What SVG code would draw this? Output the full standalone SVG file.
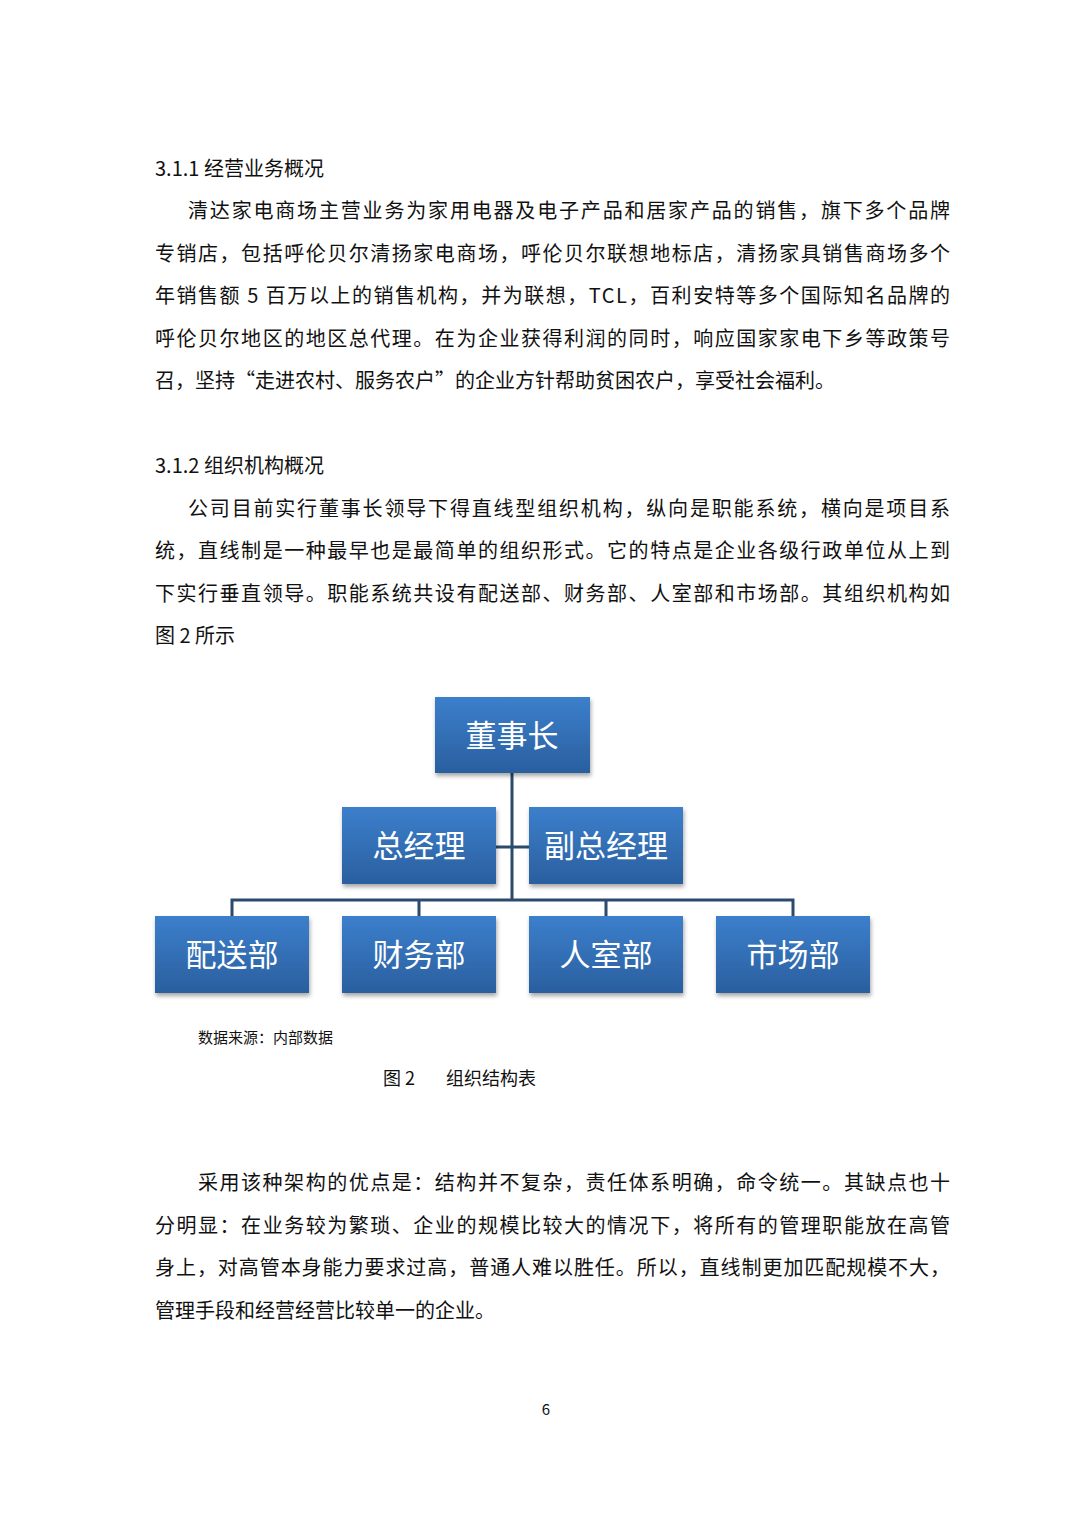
<svg xmlns="http://www.w3.org/2000/svg" width="1080" height="1527" viewBox="0 0 1080 1527">
<style>
.t{font-family:"Noto Sans CJK SC","Noto Sans",sans-serif;font-size:20px;fill:#111}
.s{font-family:"Noto Sans CJK SC","Noto Sans",sans-serif;font-size:15px;fill:#111}
.n{font-family:"Noto Sans CJK SC",sans-serif;font-size:31px;fill:#fff;text-anchor:middle}
.c{stroke:#2b4a6e;stroke-width:3;fill:none}
</style>
<defs>
<linearGradient id="g" x1="0" y1="0" x2="0" y2="1"><stop offset="0" stop-color="#3c7fcc"/><stop offset="1" stop-color="#2a5f9f"/></linearGradient>
<filter id="sh" x="-10%" y="-10%" width="125%" height="130%"><feDropShadow dx="1" dy="3" stdDeviation="2" flood-color="#000" flood-opacity="0.35"/></filter>
</defs>
<rect width="1080" height="1527" fill="#fff"/>
<text class="t" x="155" y="176">3.1.1 经营业务概况</text>
<text class="t" x="188" y="218" textLength="762" lengthAdjust="spacing">清达家电商场主营业务为家用电器及电子产品和居家产品的销售，旗下多个品牌</text>
<text class="t" x="155" y="261" textLength="795" lengthAdjust="spacing">专销店，包括呼伦贝尔清扬家电商场，呼伦贝尔联想地标店，清扬家具销售商场多个</text>
<text class="t" x="155" y="303" textLength="795" lengthAdjust="spacing">年销售额 5 百万以上的销售机构，并为联想，TCL，百利安特等多个国际知名品牌的</text>
<text class="t" x="155" y="346" textLength="795" lengthAdjust="spacing">呼伦贝尔地区的地区总代理。在为企业获得利润的同时，响应国家家电下乡等政策号</text>
<text class="t" x="155" y="388">召，坚持“走进农村、服务农户”的企业方针帮助贫困农户，享受社会福利。</text>
<text class="t" x="155" y="473">3.1.2 组织机构概况</text>
<text class="t" x="188" y="516" textLength="762" lengthAdjust="spacing">公司目前实行董事长领导下得直线型组织机构，纵向是职能系统，横向是项目系</text>
<text class="t" x="155" y="558" textLength="795" lengthAdjust="spacing">统，直线制是一种最早也是最简单的组织形式。它的特点是企业各级行政单位从上到</text>
<text class="t" x="155" y="601" textLength="795" lengthAdjust="spacing">下实行垂直领导。职能系统共设有配送部、财务部、人室部和市场部。其组织机构如</text>
<text class="t" x="155" y="643">图  2 所示</text>
<g id="connectors">
<path class="c" d="M512 773V900M496 847H529M232 916V900H793V916M419 900V916M606 900V916"/>
</g>
<g id="n1"><rect x="435" y="697" width="155" height="76" fill="url(#g)" filter="url(#sh)"/><text class="n" x="512" y="747">董事长</text></g>
<g id="n2"><rect x="342" y="807" width="154" height="77" fill="url(#g)" filter="url(#sh)"/><text class="n" x="419" y="857">总经理</text></g>
<g id="n3"><rect x="529" y="807" width="154" height="77" fill="url(#g)" filter="url(#sh)"/><text class="n" x="606" y="857">副总经理</text></g>
<g id="n4"><rect x="155" y="916" width="154" height="77" fill="url(#g)" filter="url(#sh)"/><text class="n" x="232" y="966">配送部</text></g>
<g id="n5"><rect x="342" y="916" width="154" height="77" fill="url(#g)" filter="url(#sh)"/><text class="n" x="419" y="966">财务部</text></g>
<g id="n6"><rect x="529" y="916" width="154" height="77" fill="url(#g)" filter="url(#sh)"/><text class="n" x="606" y="966">人室部</text></g>
<g id="n7"><rect x="716" y="916" width="154" height="77" fill="url(#g)" filter="url(#sh)"/><text class="n" x="793" y="966">市场部</text></g>
<text class="s" x="198" y="1043">数据来源：内部数据</text>
<text class="t" x="383" y="1085" style="font-size:18px">图 2</text>
<text class="t" x="446" y="1085" style="font-size:18px">组织结构表</text>
<text class="t" x="198" y="1190" textLength="752" lengthAdjust="spacing">采用该种架构的优点是：结构并不复杂，责任体系明确，命令统一。其缺点也十</text>
<text class="t" x="155" y="1233" textLength="795" lengthAdjust="spacing">分明显：在业务较为繁琐、企业的规模比较大的情况下，将所有的管理职能放在高管</text>
<text class="t" x="155" y="1275" textLength="795" lengthAdjust="spacing">身上，对高管本身能力要求过高，普通人难以胜任。所以，直线制更加匹配规模不大，</text>
<text class="t" x="155" y="1318">管理手段和经营经营比较单一的企业。</text>
<text class="t" x="546" y="1415" style="font-size:15px;text-anchor:middle">6</text>
</svg>
